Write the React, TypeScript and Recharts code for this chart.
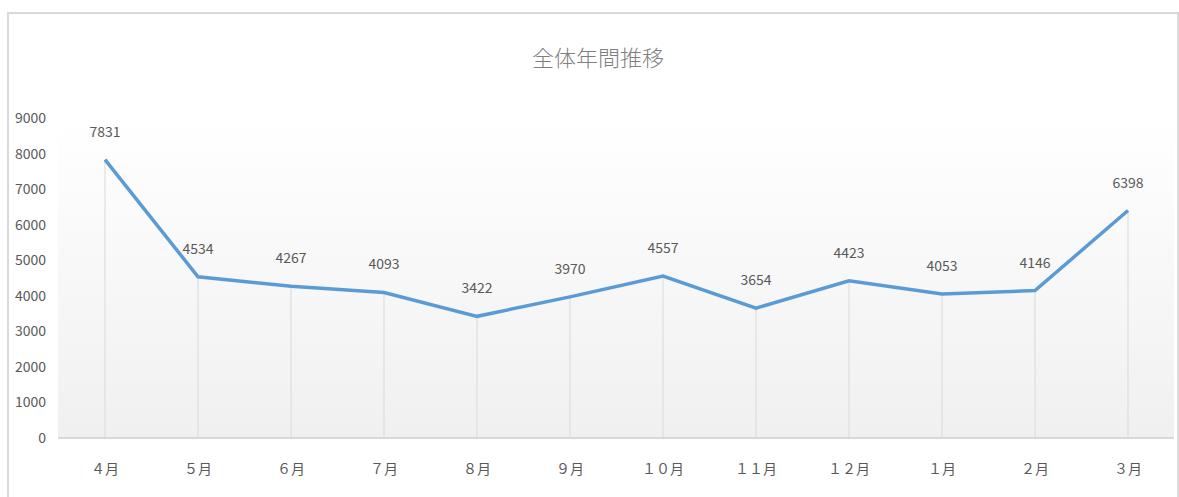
import React from "react";
import {
  LineChart,
  Line,
  XAxis,
  YAxis,
  CartesianGrid,
  LabelList,
  ReferenceLine,
} from "recharts";

const months = ["４月", "５月", "６月", "７月", "８月", "９月", "１０月", "１１月", "１２月", "１月", "２月", "３月"];
const totals = [7831, 4534, 4267, 4093, 3422, 3970, 4557, 3654, 4423, 4053, 4146, 6398];
const yTicks = [0, 1000, 2000, 3000, 4000, 5000, 6000, 7000, 8000, 9000];

const FONT = "'Noto Sans CJK JP', 'Noto Sans', sans-serif";
const TEXT = "#595959";

const data = months.map((m, i) => ({ month: m, total: totals[i] }));

export default function App() {
  return (
    <div style={{ position: "absolute", left: 0, top: 0, width: 1179, height: 497, background: "#fff", overflow: "hidden" }}>
      {/* chart frame */}
      <div
        style={{
          position: "absolute",
          left: 7,
          top: 12,
          width: 1172,
          height: 500,
          border: "2px solid #d9d9d9",
          boxSizing: "border-box",
        }}
      />
      <div
        style={{
          position: "absolute",
          left: 0,
          width: 1196,
          top: 40,
          textAlign: "center",
          fontFamily: FONT,
          fontSize: 22,
          color: "#7f7f7f",
          fontWeight: 300,
        }}
      >
        全体年間推移
      </div>
      <div style={{ position: "absolute", left: 0, top: 0 }}>
        <LineChart width={1179} height={497} data={data} margin={{ top: 118, right: 5, left: 0, bottom: 29 }}>
          <defs>
            <linearGradient id="plotBg" x1="0" y1="0" x2="0" y2="1">
              <stop offset="0%" stopColor="#ffffff" />
              <stop offset="100%" stopColor="#f0f0f0" />
            </linearGradient>
          </defs>
          <CartesianGrid horizontal={false} vertical={false} fill="url(#plotBg)" />
          <XAxis
            dataKey="month"
            padding={{ left: 47, right: 46 }}
            axisLine={{ stroke: "#d9d9d9", strokeWidth: 2 }}
            tickLine={false}
            height={30}
            tickMargin={20}
            interval={0}
            tick={{ fill: TEXT, fontSize: 14, fontFamily: FONT }}
          />
          <YAxis
            domain={[0, 9000]}
            ticks={yTicks}
            width={58}
            axisLine={false}
            tickLine={false}
            tickMargin={6}
            tick={{ fill: TEXT, fontSize: 14, fontFamily: FONT }}
          />
          {data.map((d) => (
            <ReferenceLine
              key={d.month}
              segment={[
                { x: d.month, y: 0 },
                { x: d.month, y: d.total },
              ]}
              stroke="#d9d9d9"
              strokeWidth={1}
            />
          ))}
          <Line
            type="linear"
            dataKey="total"
            stroke="#5b9bd5"
            strokeWidth={3.5}
            dot={false}
            activeDot={false}
            isAnimationActive={false}
          >
            <LabelList dataKey="total" position="top" offset={23} fill={TEXT} fontSize={14} fontFamily={FONT} />
          </Line>
        </LineChart>
      </div>
    </div>
  );
}
